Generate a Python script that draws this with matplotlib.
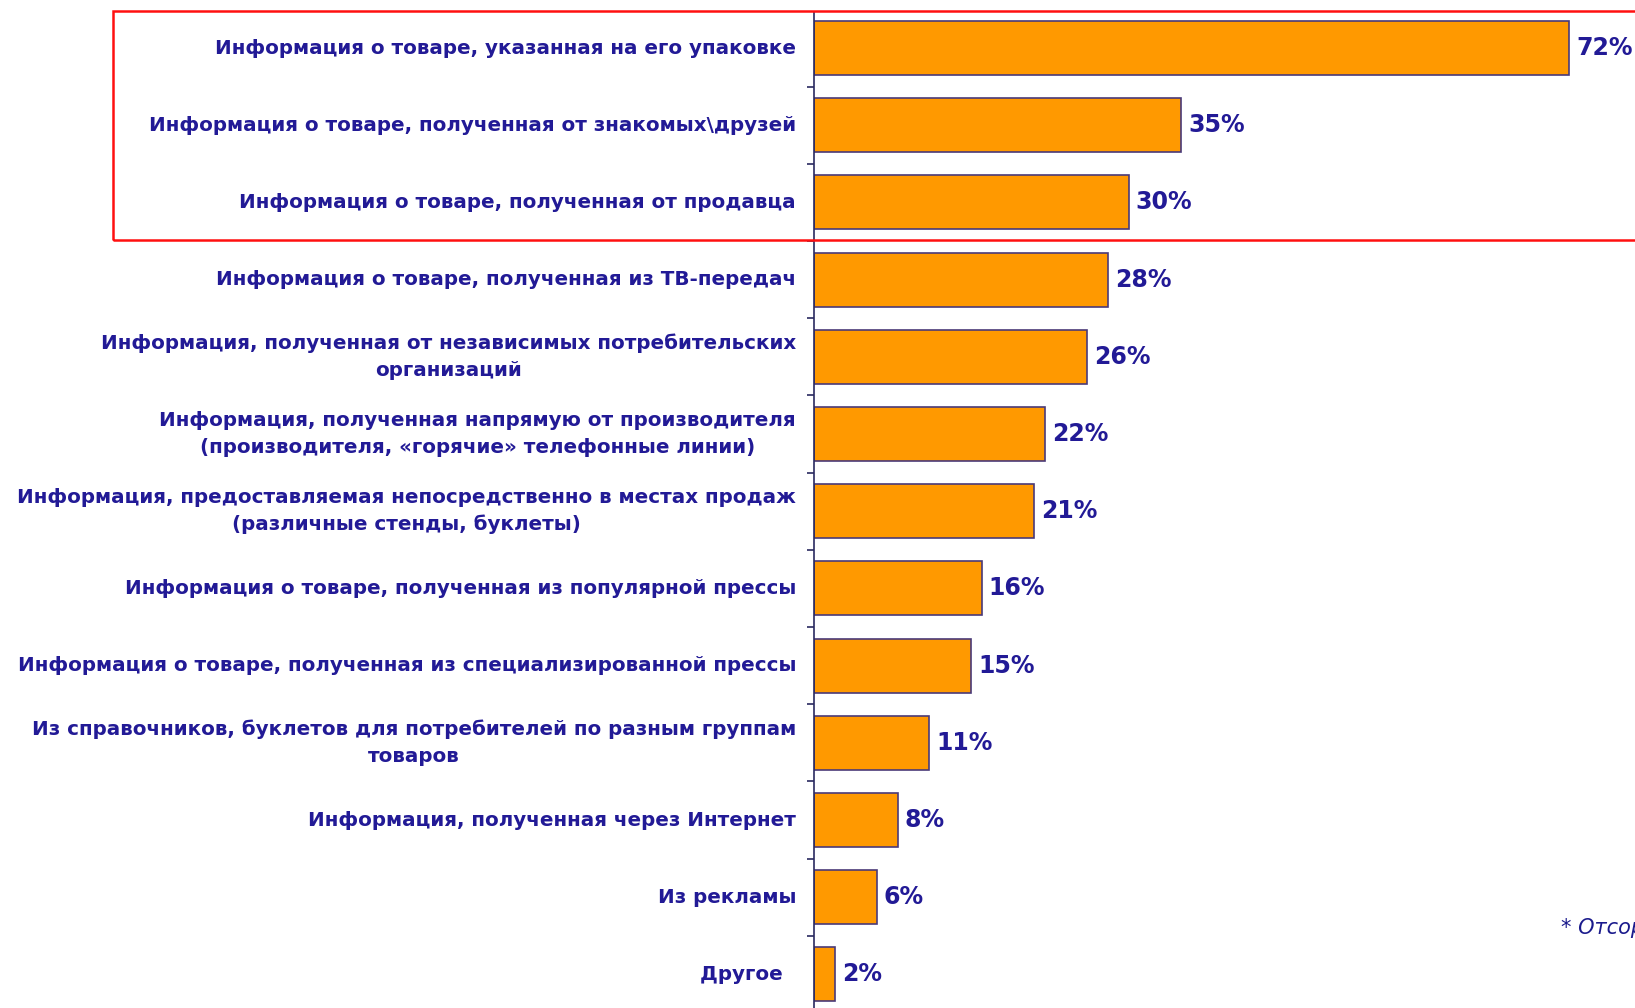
import matplotlib
matplotlib.use("Agg")
import matplotlib.pyplot as plt
import matplotlib.patches as patches
import matplotlib.transforms as mtransforms

# ---- данные ----
categories = [
    "Информация о товаре, указанная на его упаковке",
    "Информация о товаре, полученная от знакомых\\друзей",
    "Информация о товаре, полученная от продавца",
    "Информация о товаре, полученная из ТВ-передач",
    "Информация, полученная от независимых потребительских\nорганизаций",
    "Информация, полученная напрямую от производителя\n(производителя, «горячие» телефонные линии)",
    "Информация, предоставляемая непосредственно в местах продаж\n(различные стенды, буклеты)",
    "Информация о товаре, полученная из популярной прессы",
    "Информация о товаре, полученная из специализированной прессы",
    "Из справочников, буклетов для потребителей по разным группам\nтоваров",
    "Информация, полученная через Интернет",
    "Из рекламы",
    "Другое  ",
]
values = [72, 35, 30, 28, 26, 22, 21, 16, 15, 11, 8, 6, 2]
footnote = "* Отсортировано по убыванию"

text_color = "#221a96"
bar_color = "#ff9900"
edge_color = "#4a3a78"

W, H = 1635, 1008
fig = plt.figure(figsize=(W / 100, H / 100), dpi=100)

# ось: левый край на x=814 px, строки по 77.2 px
ax_left = 814 / W
row = 77.2
top_px = 48 - row / 2
bot_px = top_px + row * len(values)
ax = fig.add_axes([ax_left, 1 - bot_px / H, 1 - ax_left, (bot_px - top_px) / H])

y = list(range(len(values)))
ax.barh(y, values, height=0.70, color=bar_color, edgecolor=edge_color, linewidth=1.2)
ax.set_ylim(len(values) - 0.5, -0.5)
ax.set_xlim(0, (W - 814) / 10.49)

for s in ["top", "right", "bottom"]:
    ax.spines[s].set_visible(False)
ax.spines["left"].set_color("#2a2a60")
ax.spines["left"].set_linewidth(1.2)
ax.spines["left"].set_bounds(-0.46, len(values) - 0.5)
ax.set_xticks([])
ax.set_yticks([])
ax.set_yticks([i + 0.5 for i in range(len(values) - 1)], minor=True)
ax.tick_params(axis="y", which="minor", direction="out", length=5, width=1.2, color="#2a2a60")

# подписи категорий
lbl_tr = mtransforms.offset_copy(ax.get_yaxis_transform(), fig=fig, x=-18, y=0, units="dots")
for i, c in enumerate(categories):
    ax.text(0, i, c, transform=lbl_tr, ha="right", va="center", multialignment="center",
            fontsize=14.3, fontweight="bold", color=text_color, family="DejaVu Sans",
            linespacing=1.5)

# значения
for i, v in enumerate(values):
    ax.annotate(f"{v}%", (v, i), xytext=(7, 0), textcoords="offset pixels",
                ha="left", va="center", fontsize=17, fontweight="bold", color=text_color,
                family="DejaVu Sans", annotation_clip=False)

# красная рамка вокруг первых трех строк
rect = patches.Rectangle((113 / W, 1 - 240 / H), 1.2, (240 - 11) / H, transform=fig.transFigure,
                         fill=False, edgecolor="#ff1010", linewidth=1.8, clip_on=False)
fig.patches.append(rect)

fig.text(1561 / W, 1 - 928 / H, footnote, ha="left", va="center", fontsize=15,
         style="italic", color="#1a1a8c", family="DejaVu Sans")

fig.savefig("out.png", dpi=100)
